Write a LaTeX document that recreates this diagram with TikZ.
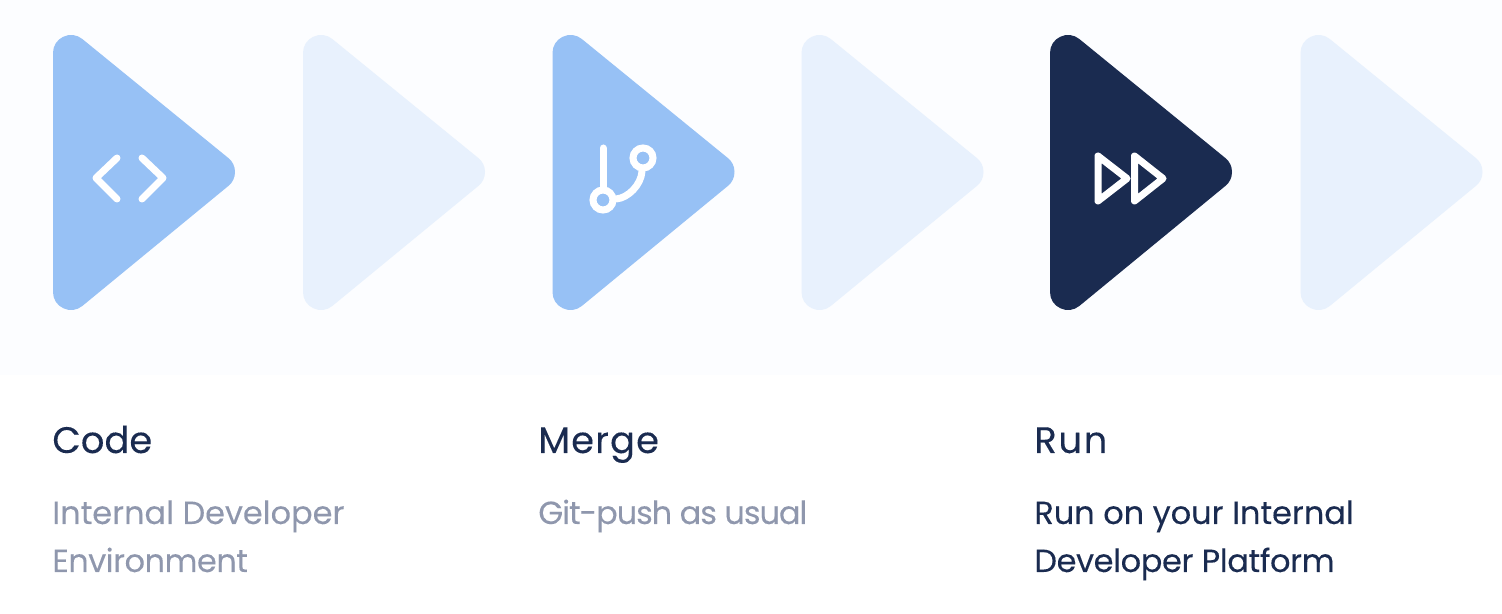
\documentclass[tikz,border=0pt]{standalone}
\usepackage{fontspec}
\setmainfont{Poppins}[FakeBold=0.15]
\definecolor{paleback}{HTML}{FCFDFF}
\definecolor{midblue}{HTML}{97C1F5}
\definecolor{paleblue}{HTML}{E8F1FD}
\definecolor{navy}{HTML}{1A2B50}
\definecolor{greyblue}{HTML}{8F97AD}
\newcommand{\track}[1]{\addfontfeature{LetterSpace=#1}}
\tikzset{
  px/.style = {x=0.02cm, y=-0.02cm},
  head/.style = {anchor=base west, inner sep=0pt, text=navy, font=\fontsize{21}{21}\selectfont},
  note/.style = {anchor=base west, inner sep=0pt, font=\fontsize{18.2}{18.2}\selectfont},
  icon/.style = {draw=white, line width=0.14cm, line cap=round, line join=round},
  ring/.style = {circle, draw=white, line width=0.14cm, minimum size=0.4cm, inner sep=0pt},
  tri/.pic = {\filldraw [line width=0.72cm, line join=round] (18,53) -- (164,172) -- (18,292) -- cycle;}
}
\begin{document}
\begin{tikzpicture}[px]
\useasboundingbox (0,0) rectangle (1502,614);
\fill [paleback] (0,0) rectangle (1502,375);

\pic [color=midblue] at (53,0) {tri};
\pic [color=paleblue] at (303,0) {tri};
\pic [color=midblue] at (552.5,0) {tri};
\pic [color=paleblue] at (801.5,0) {tri};
\pic [color=navy] at (1050,0) {tri};
\pic [color=paleblue] at (1300.5,0) {tri};

% code icon
\draw [icon] (117,158) -- (96,178) -- (117,199);
\draw [icon] (142,158) -- (163,178) -- (142,199);

% merge icon
\node (m1) [ring] at (603,200) {};
\node (m2) [ring] at (643,158) {};
\coordinate (m0) at (603,148);
\draw [icon] (m0) -- (m1);
\draw [icon] (m1) .. controls (628,198) and (641,185) .. (m2);

% run icon
\draw [icon] (1098,156) -- (1127,178.5) -- (1098,201) -- cycle;
\draw [icon] (1134.5,156) -- (1163,178.5) -- (1134.5,201) -- cycle;

\node (code) [head] at (52,453) {Code};
\node (merge) [head] at (538,453) {\track{3}Merge};
\node (run) [head] at (1034,453) {\track{4.5}Run};

\node (c1) [note, text=greyblue] at (52,524) {Internal Developer};
\node (c2) [note, text=greyblue] at (52,572) {\track{-1.5}Environment};
\node (m3) [note, text=greyblue] at (538,524) {\track{-3.3}Git-push as usual};
\node (r1) [note, text=navy] at (1034,524) {Run on your Internal};
\node (r2) [note, text=navy] at (1034,572) {\track{-1.1}Developer Platform};
\end{tikzpicture}
\end{document}
